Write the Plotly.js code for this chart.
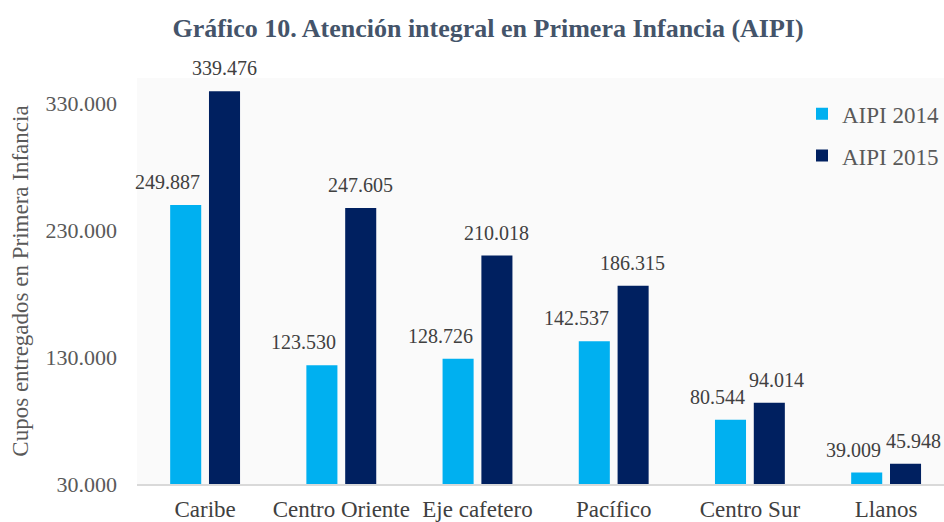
<!DOCTYPE html>
<html><head><meta charset="utf-8">
<script src="https://cdn.plot.ly/plotly-3.0.1.min.js"></script>
<style>body{margin:0;background:#fff}#c{width:944px;height:522px}</style>
</head><body><div id="c"></div>
<script>
const categories = ["Caribe","Centro Oriente","Eje cafetero","Pacífico","Centro Sur","Llanos"];
const aipi2014 = [249887,123530,128726,142537,80544,39009];
const aipi2015 = [339476,247605,210018,186315,94014,45948];
const tickVals = [30000,130000,230000,330000];

const font = "'Liberation Serif', 'Times New Roman', serif";
const mk = (name, y, color, grp) => ({
  type:'bar', name, x:categories, y, legendgroup:grp,
  marker:{color}, hoverinfo:'skip'
});
const data = [mk('AIPI 2014', aipi2014, '#00b0f0','a'), mk('AIPI 2015', aipi2015, '#002060','b')];
const fmt = v => v.toLocaleString('de-DE');
const lblFont = {family:font,size:20,color:'#404040'};
const annotations = [];
// 2014 labels: right-aligned to the right edge of the light-blue bar
aipi2014.forEach((v,i) => annotations.push({
  x:categories[i], y:v, xref:'x', yref:'y', text:fmt(v), showarrow:false,
  xshift:-3, yshift:23, yanchor:'middle', xanchor:'right', font:lblFont
}));
// 2015 labels: centred over the dark bar (short bars nudged right)
aipi2015.forEach((v,i) => annotations.push({
  x:categories[i], y:v, xref:'x', yref:'y', text:fmt(v), showarrow:false,
  xshift: v < 100000 ? 27 : 19, yshift:23, yanchor:'middle', xanchor:'center', font:lblFont
}));
const layout = {
  width:944, height:522, separators:',.',
  margin:{l:137,r:0,t:78,b:38,autoexpand:false},
  paper_bgcolor:'#ffffff', plot_bgcolor:'#fafafa',
  title:{text:'<b>Gráfico 10. Atención integral en Primera Infancia (AIPI)</b>', x:0.517, xanchor:'center', xref:'container', y:1-28/522, yanchor:'middle', yref:'container',
    font:{family:font,size:26,color:'#44546a'}},
  barmode:'group', bargap:0.43, bargroupgap:0.2,
  annotations,
  xaxis:{range:[-0.5,5.425], tickfont:{family:font,size:23,color:'#404040'}, showline:true, linecolor:'#d9d9d9', linewidth:1.5, ticks:'', ticklabelstandoff:4, automargin:false},
  yaxis:{range:[30000,350000], tickvals:tickVals, tickformat:',.0f', tickfont:{family:font,size:22,color:'#595959'},
    showgrid:false, zeroline:false, ticks:'', ticklabelstandoff:19, automargin:false,
    title:{text:'Cupos entregados en Primera Infancia', standoff:10, font:{family:font,size:23,color:'#595959'}}},
  legend:{x:1, y:0.965, xanchor:'right', yanchor:'top', bgcolor:'rgba(0,0,0,0)', font:{family:font,size:23,color:'#595959'}, itemwidth:30, tracegroupgap:9},
  showlegend:true
};
Plotly.newPlot('c', data, layout, {staticPlot:true});
</script></body></html>
